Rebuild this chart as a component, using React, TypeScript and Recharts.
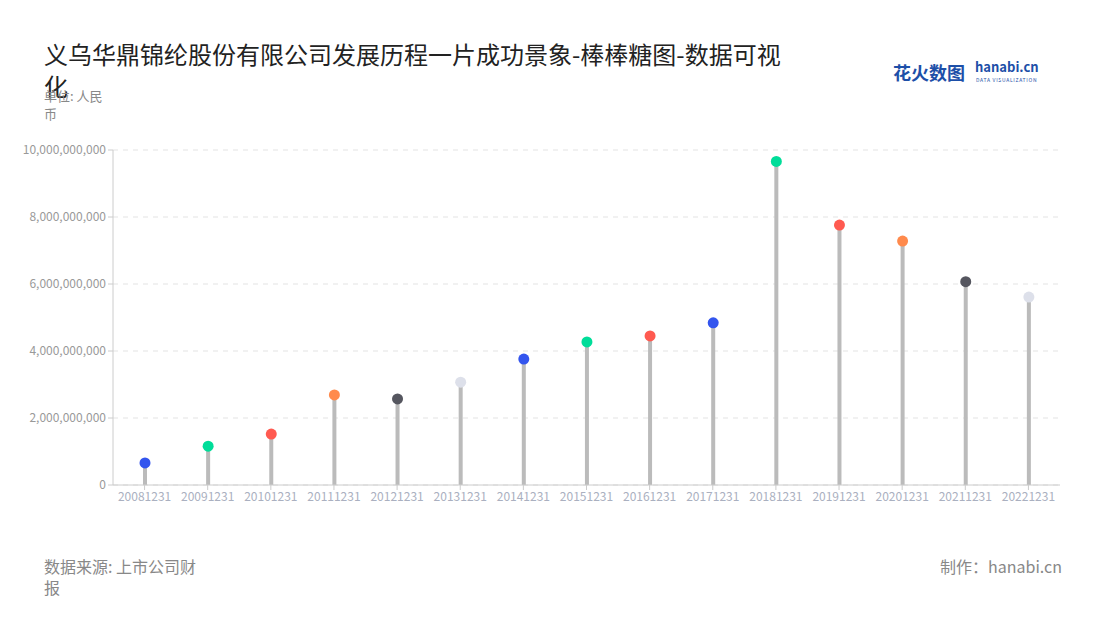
import React from "react";
import {
  ComposedChart,
  Bar,
  XAxis,
  YAxis,
  CartesianGrid,
} from "recharts";

const years = [
  "20081231", "20091231", "20101231", "20111231", "20121231",
  "20131231", "20141231", "20151231", "20161231", "20171231",
  "20181231", "20191231", "20201231", "20211231", "20221231",
];

const revenue = [
  0.66e9, 1.16e9, 1.52e9, 2.69e9, 2.57e9,
  3.07e9, 3.76e9, 4.27e9, 4.45e9, 4.84e9,
  9.66e9, 7.76e9, 7.28e9, 6.07e9, 5.61e9,
];

const yTicks = [0, 2e9, 4e9, 6e9, 8e9, 10e9];

const dotColors = [
  "#3355ee", "#00dd99", "#ff5a50", "#ff8a4c", "#55565f",
  "#dde0ea", "#3355ee", "#00dd99", "#ff5a50", "#3355ee",
  "#00dd99", "#ff5a50", "#ff8a4c", "#55565f", "#dde0ea",
];

const data = years.map((year, i) => ({ year, value: revenue[i] }));

const font = '"Noto Sans CJK SC", "Noto Sans", sans-serif';

const Lollipop = (props: any) => {
  const { x, y, width, height, index } = props;
  const cx = x + width / 2;
  return (
    <g>
      <rect x={x} y={y} width={width} height={height} fill="#bbbbbb" />
      <circle cx={cx} cy={y} r={5.5} fill={dotColors[index]} />
    </g>
  );
};

export default function App() {
  return (
    <div
      style={{
        position: "relative",
        width: 1100,
        height: 620,
        background: "#fff",
        fontFamily: font,
        overflow: "hidden",
      }}
    >
      <style>{`body{margin:0}`}</style>
      <div
        style={{
          position: "absolute",
          left: 44,
          top: 38,
          width: 760,
          fontSize: 24,
          lineHeight: "32px",
          color: "#222",
        }}
      >
        义乌华鼎锦纶股份有限公司发展历程一片成功景象-棒棒糖图-数据可视化
      </div>
      <div
        style={{
          position: "absolute",
          left: 44,
          top: 87,
          width: 70,
          fontSize: 13,
          lineHeight: "18px",
          color: "#888",
        }}
      >
        单位: 人民币
      </div>

      {/* logo */}
      <div
        style={{
          position: "absolute",
          left: 893,
          top: 60,
          fontSize: 18,
          lineHeight: "24px",
          fontWeight: 700,
          color: "#1d4fa8",
        }}
      >
        花火数图
      </div>
      <div
        style={{
          position: "absolute",
          left: 975,
          top: 59,
          fontSize: 13,
          lineHeight: "16px",
          fontWeight: 700,
          color: "#1d4fa8",
        }}
      >
        hanabi.cn
      </div>
      <div
        style={{
          position: "absolute",
          left: 976,
          top: 77,
          fontSize: 5,
          lineHeight: "6px",
          color: "#1d4fa8",
          letterSpacing: 0.7,
          whiteSpace: "nowrap",
        }}
      >
        DATA VISUALIZATION
      </div>

      <div style={{ position: "absolute", left: 0, top: 0 }}>
        <ComposedChart
          width={1100}
          height={620}
          data={data}
          margin={{ top: 150, right: 40, left: 33, bottom: 105 }}
        >
          <CartesianGrid
            vertical={false}
            strokeDasharray="5 5"
            stroke="#e3e3e3"
          />
          <XAxis
            dataKey="year"
            interval={0}
            height={30}
            axisLine={{ stroke: "#cccccc" }}
            tickLine={{ stroke: "#cccccc" }}
            tickSize={5}
            tick={{ fill: "#aab0c0", fontSize: 12, fontFamily: font }}
          />
          <YAxis
            width={80}
            domain={[0, 10e9]}
            ticks={yTicks}
            axisLine={{ stroke: "#cccccc" }}
            tickLine={{ stroke: "#cccccc" }}
            tickSize={5}
            tick={{ fill: "#999999", fontSize: 12, fontFamily: font }}
            tickFormatter={(v: number) => v.toLocaleString("en-US")}
          />
          <Bar
            dataKey="value"
            barSize={4}
            shape={Lollipop}
            isAnimationActive={false}
          />
        </ComposedChart>
      </div>

      <div
        style={{
          position: "absolute",
          left: 44,
          top: 556,
          width: 160,
          fontSize: 16,
          lineHeight: "21px",
          color: "#888",
        }}
      >
        数据来源: 上市公司财报
      </div>
      <div
        style={{
          position: "absolute",
          right: 38,
          top: 556,
          fontSize: 16,
          lineHeight: "21px",
          color: "#888",
        }}
      >
        制作：hanabi.cn
      </div>
    </div>
  );
}
